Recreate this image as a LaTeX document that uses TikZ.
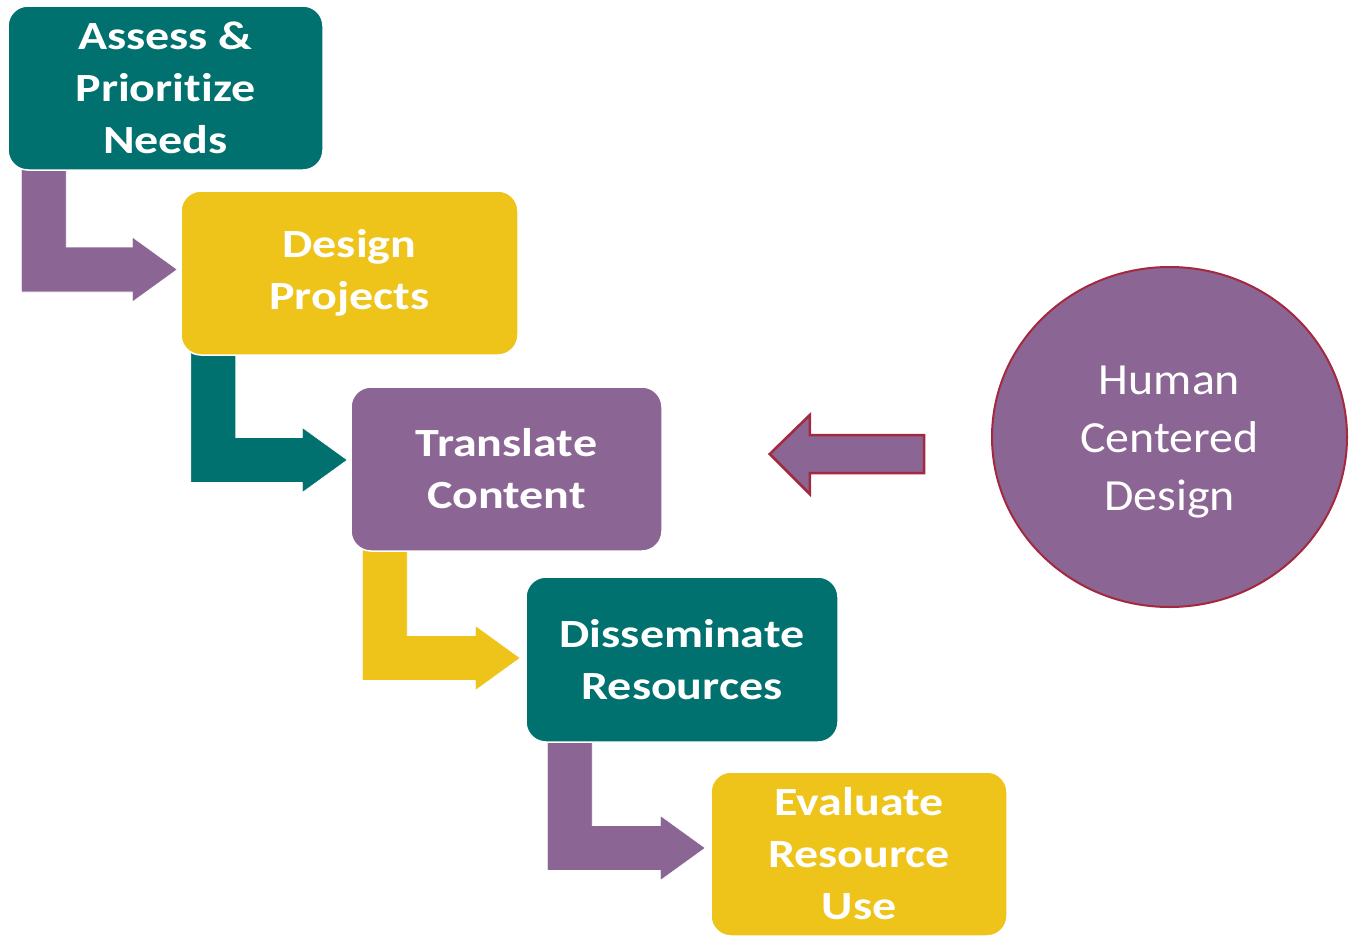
\documentclass[tikz,border=0pt]{standalone}
\usepackage{fontspec}
\setmainfont{Carlito}
\newfontfamily\boxfont[FakeStretch=1.2, Ligatures=NoCommon]{Carlito}
\newfontfamily\hcdfont[FakeStretch=1.075]{Carlito}
\usetikzlibrary{positioning,calc,shapes.geometric,backgrounds}
\definecolor{hcdteal}{HTML}{00716E}
\definecolor{hcdyellow}{HTML}{EEC41A}
\definecolor{hcdpurple}{HTML}{8B6594}
\definecolor{hcdred}{HTML}{A3293F}
% elbow arrow: colour, top of the bar, tip
\newcommand{\elbowarrow}[3]{%
  \fill[#1, draw=white, line width=0.6pt] let \p1=(#2), \p2=(#3) in
    (\x1,\y1) -- ({\x1+45pt},\y1) -- ({\x1+45pt},{\y2+22.5pt})
    -- ({\x2-45pt},{\y2+22.5pt}) -- ({\x2-45pt},{\y2+32.5pt}) -- (\x2,\y2)
    -- ({\x2-45pt},{\y2-32.5pt}) -- ({\x2-45pt},{\y2-22.5pt})
    -- (\x1,{\y2-22.5pt}) -- cycle;}

\begin{document}
\begin{tikzpicture}[x=1pt,y=-1pt,on grid,
    box/.style={rectangle, rounded corners=20pt, draw=white, line width=1.5pt,
      inner sep=0pt, align=center, text=white, minimum height=164pt,
      font=\boxfont\bfseries\fontsize{40}{52}\selectfont}]
    \useasboundingbox (0,0) rectangle (1351,937);
    \node[box, fill=hcdteal, minimum width=315pt] (b_1) at (165.5,88) {Assess \&\\Prioritize\\Needs};
    \node[box, fill=hcdyellow, minimum width=337pt] (b_2) [below right=185pt and 184pt of b_1] {Design\\Projects};
    \node[box, fill=hcdpurple, minimum width=311pt] (b_3) [below right=196pt and 157pt of b_2] {Translate\\Content};
    \node[box, fill=hcdteal, minimum width=312pt, minimum height=165pt] (b_4) [below right=190.5pt and 175.5pt of b_3] {Disseminate\\Resources};
    \node[box, fill=hcdyellow, minimum width=296pt] (b_5) [below right=194.5pt and 177pt of b_4] {Evaluate\\Resource\\Use};
    \node[ellipse, fill=hcdpurple, draw=hcdred, line width=2pt, minimum width=355pt, minimum height=340pt,
      label={[align=center, text=white, yshift=-5pt, font=\hcdfont\fontsize{44.5}{58}\selectfont]center:Human\\Centered\\Design}]
      (hcd) [above right=32pt and 663pt of b_3] {};
    \coordinate (a_1) at ($(b_1.south west)+(14,-5)$);
    \coordinate (a_2) at ($(b_2.south west)+(10.5,-5)$);
    \coordinate (a_3) at ($(b_3.south west)+(12,-5)$);
    \coordinate (a_4) at ($(b_4.south west)+(22,-5)$);
    \coordinate (t_2) at ($(b_2.west)+(-3,-3.5)$);
    \coordinate (t_3) at ($(b_3.west)+(-3,-9)$);
    \coordinate (t_4) at ($(b_4.west)+(-5,-1.5)$);
    \coordinate (t_5) at ($(b_5.west)+(-5,-6)$);
    \coordinate (h_tail) at ($(hcd.west)+(-67,17)$);
    \coordinate (h_tip) at ($(b_3.east)+(107,-15)$);
    \begin{scope}[on background layer]
      \elbowarrow{hcdpurple}{a_1}{t_2}
      \elbowarrow{hcdteal}{a_2}{t_3}
      \elbowarrow{hcdyellow}{a_3}{t_4}
      \elbowarrow{hcdpurple}{a_4}{t_5}
    \end{scope}
    \filldraw[fill=hcdpurple, draw=hcdred, line width=2.5pt] let \p1=(h_tail), \p2=(h_tip) in
      (\p2) -- ({\x2+40pt},{\y2+39pt}) -- ({\x2+40pt},{\y2+19pt}) -- (\x1,{\y2+19pt})
      -- (\x1,{\y2-19pt}) -- ({\x2+40pt},{\y2-19pt}) -- ({\x2+40pt},{\y2-40pt}) -- cycle;
\end{tikzpicture}
\end{document}
